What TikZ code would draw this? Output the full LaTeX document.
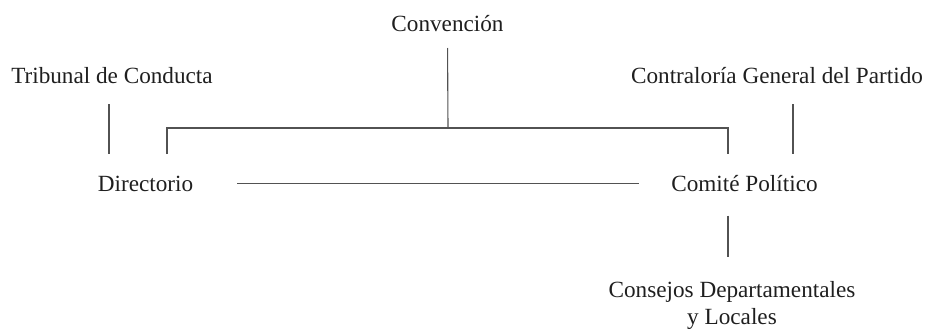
\documentclass[tikz,border=0pt]{standalone}
\usepackage{fontspec}
\setmainfont{Liberation Serif}
\usetikzlibrary{calc}

\tikzset{
    orgtext/.style  = {inner sep=0pt, outer sep=0pt, text=black!88, font=\fontsize{23.2}{27}\selectfont},
    org/.style      = {orgtext, text height=16pt, text depth=6pt, anchor=base},
    conn/.style     = {black!68, line width=1.1pt},
}

\begin{document}
\begin{tikzpicture}[x=1pt, y=-1pt]
            \useasboundingbox (0,0) rectangle (927,332);

            \node       [org]                           (conv)  at (447.5,31)   {Convención};
            \node       [org]                           (trib)  at (112,83)     {Tribunal de Conducta};
            \node       [org]                           (contr) at (777,83)     {Contraloría General del Partido};
            \node       [org]                           (dir)   at (145.5,191.5) {Directorio};
            \node       [org]                           (com)   at (744.5,191.5) {Comité Político};
            \node       [orgtext, align=center, anchor=north] (cons) at (732,281) {Consejos Departamentales\\y Locales};
            \coordinate                                 (bar)   at (448,128);

            \draw       [conn, shorten <=11pt]          (conv.south) -- (bar);                                              % Convencion stem
            \draw       [conn]                          ([xshift=21.5pt,yshift=21.5pt]dir.north) |- (bar)
                                                        -| ([xshift=-16.5pt,yshift=21.5pt]com.north);                       % bracket
            \draw       [conn, shorten <=15pt, shorten >=21.5pt]  ([xshift=-3pt]trib.south) -- ([xshift=-3pt]trib.south |- dir.north);      % Tribunal line
            \draw       [conn, shorten <=15pt, shorten >=21.5pt]  ([xshift=16pt]contr.south) -- ([xshift=16pt]contr.south |- com.north);    % Contraloria line
            \draw       [conn, shorten <=44pt, shorten >=32pt]    ([yshift=8pt]dir.base east) -- ([yshift=8pt]com.base west);               % Directorio - Comite
            \draw       [conn, shorten <=18pt, shorten >=24pt]    ([xshift=-16.5pt]com.south) -- ([xshift=-16.5pt]com.south |- cons.north); % Consejos line
        \end{tikzpicture}
\end{document}
